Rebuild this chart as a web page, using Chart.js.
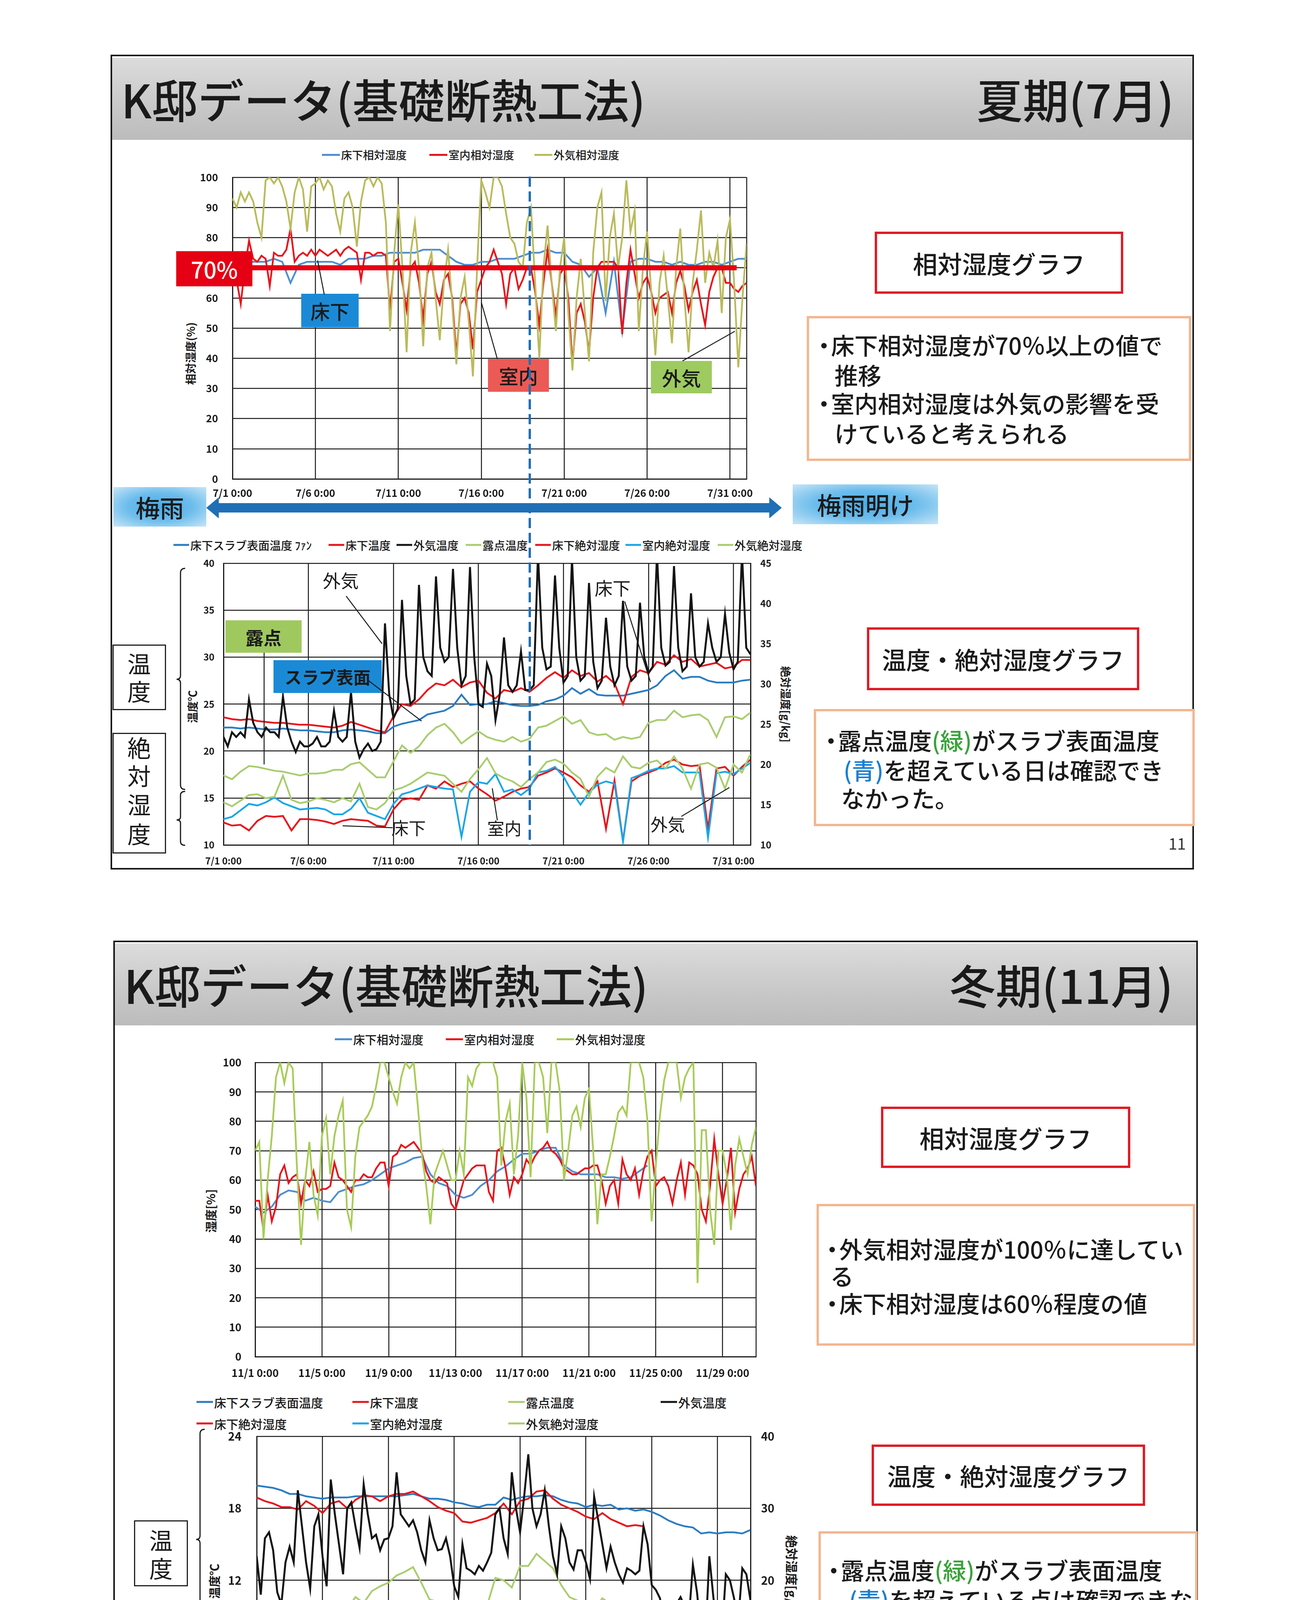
<!DOCTYPE html>
<html lang="ja">
<head>
<meta charset="utf-8">
<title>K邸データ(基礎断熱工法)</title>
<script src="https://cdn.jsdelivr.net/npm/chart.js@4.4.1/dist/chart.umd.min.js"></script>
<style>
html, body { margin: 0; padding: 0; background: #fff; }
body { width: 3307px; height: 4680px; position: relative; overflow: hidden;
       font-family: 'Noto Sans CJK JP', 'Noto Sans', sans-serif; color: #1a1a1a; }
.frame { position: absolute; border: 4px solid #161616; box-sizing: border-box; background: #fff; }
.band { position: absolute; background: linear-gradient(#dcdcdc, #c6c6c6 65%, #bcbcbc); }
.title { position: absolute; font-size: 118px; font-weight: 500; line-height: 1; white-space: nowrap; transform: translateY(-50%); }
.t { position: absolute; line-height: 1; white-space: nowrap; transform: translateY(-50%); font-weight: 500; }
.c { position: absolute; line-height: 1; white-space: nowrap; transform: translate(-50%, -50%); }
.chartbox { position: absolute; z-index: 1; }
.box { position: absolute; box-sizing: border-box; display: flex; align-items: center; justify-content: center; z-index: 3; line-height: 1; white-space: nowrap; }
.redbox { border: 6px solid #e01b24; background: #fff; font-size: 63px; font-weight: 500; }
.notebox { position: absolute; box-sizing: border-box; border: 6px solid #f3b690; background: #fff; }
.sidebox { position: absolute; box-sizing: border-box; border: 3px solid #222; background: #fff; }
.rain { background: radial-gradient(ellipse at center, #46ace6 0%, #6dbdec 50%, #c7e5f7 100%); font-size: 62px; font-weight: 500; }
.legend-item { position: absolute; display: flex; align-items: center; white-space: nowrap; transform: translateY(-50%); line-height: 1; font-weight: 500; }
.legend-item i { display: inline-block; height: 5px; margin-right: 3px; }
.axt { position: absolute; line-height: 1; white-space: nowrap; font-weight: 700; }
.z { z-index: 4; }
svg.overlay { position: absolute; left: 0; top: 0; z-index: 6; pointer-events: none; }
</style>
</head>
<body>

<!-- slide frames -->
<div class="frame" style="left:283px; top:140px; width:2773px; height:2086px;"></div>
<div class="band" style="left:287px; top:148px; width:2765px; height:210px;"></div>
<div class="frame" style="left:290px; top:2408px; width:2776px; height:2084px;"></div>
<div class="band" style="left:294px; top:2415px; width:2768px; height:210px;"></div>

<div class="title" style="left:310px; top:252px;">K邸データ(基礎断熱工法)</div>
<div class="title" style="right:302px; top:252px;">夏期(7月)</div>
<div class="title" style="left:317px; top:2519px;">K邸データ(基礎断熱工法)</div>
<div class="title" style="right:304px; top:2519px;">冬期(11月)</div>

<!-- chart containers -->
<div class="chartbox" id="chartJulyRH"></div>
<div class="chartbox" id="chartJulyTemp"></div>
<div class="chartbox" id="chartNovRH"></div>
<div class="chartbox" id="chartNovTemp"></div>

<!-- axis titles -->
<div class="axt" style="left:487px; top:905px; font-size:28px; transform:translate(-50%,-50%) rotate(-90deg);">相対湿度(%)</div>
<div class="axt" style="left:492px; top:1809px; font-size:28px; transform:translate(-50%,-50%) rotate(-90deg);">温度℃</div>
<div class="axt" style="left:2012px; top:1803px; font-size:28px; transform:translate(-50%,-50%) rotate(90deg);">絶対湿度[g/kg]</div>
<div class="axt" style="left:538px; top:3100px; font-size:30px; transform:translate(-50%,-50%) rotate(-90deg);">湿度[%]</div>
<div class="axt" style="left:547px; top:4048px; font-size:30px; transform:translate(-50%,-50%) rotate(-90deg);">温度℃</div>
<div class="axt" style="left:2028px; top:4042px; font-size:32px; transform:translate(-50%,-50%) rotate(90deg);">絶対湿度[g/kg]</div>

<!-- slide 1 : relative humidity annotations -->
<div class="box" style="left:451px; top:643px; width:195px; height:90px; background:#e60013; color:#fff; font-size:58px; font-weight:500;">70%</div>
<div class="box" style="left:771px; top:752px; width:147px; height:86px; background:#1b8ad6; font-size:50px; font-weight:500;">床下</div>
<div class="box" style="left:1249px; top:919px; width:156px; height:84px; background:#ec5a55; font-size:50px; font-weight:500;">室内</div>
<div class="box" style="left:1666px; top:924px; width:156px; height:83px; background:#9dcb5f; font-size:50px; font-weight:500;">外気</div>

<div class="box redbox" style="left:2239px; top:593px; width:636px; height:159px;">相対湿度グラフ</div>
<div class="notebox" style="left:2065px; top:809px; width:984px; height:371px;"></div>
<div class="t z" style="left:2079px; top:882px; font-size:60px;">・</div>
<div class="t z" style="left:2127px; top:882px; font-size:60px;">床下相対湿度が70％以上の値で</div>
<div class="t z" style="left:2136px; top:959px; font-size:60px;">推移</div>
<div class="t z" style="left:2079px; top:1031px; font-size:60px;">・</div>
<div class="t z" style="left:2127px; top:1031px; font-size:60px;">室内相対湿度は外気の影響を受</div>
<div class="t z" style="left:2136px; top:1108px; font-size:60px;">けていると考えられる</div>

<!-- rainy season band -->
<div class="box rain" style="left:290px; top:1247px; width:238px; height:101px;">梅雨</div>
<div class="box rain" style="left:2029px; top:1240px; width:372px; height:102px;">梅雨明け</div>

<!-- slide 1 : temperature / absolute humidity annotations -->
<div class="c z" style="left:872px; top:1484px; font-size:46px;">外気</div>
<div class="c z" style="left:1568px; top:1503px; font-size:46px;">床下</div>
<div class="box" style="left:577px; top:1588px; width:195px; height:83px; background:#9fc95e; font-size:46px; font-weight:700;">露点</div>
<div class="box" style="left:700px; top:1690px; width:277px; height:84px; background:#1b8ad6; font-size:44px; font-weight:700;">スラブ表面</div>
<div class="c z" style="left:1046px; top:2118px; font-size:44px;">床下</div>
<div class="c z" style="left:1291px; top:2119px; font-size:44px;">室内</div>
<div class="c z" style="left:1709px; top:2109px; font-size:44px;">外気</div>

<div class="sidebox" style="left:288px; top:1650px; width:137px; height:168px;"></div>
<div class="c z" style="left:356px; top:1697px; font-size:60px;">温</div>
<div class="c z" style="left:356px; top:1768px; font-size:60px;">度</div>
<div class="sidebox" style="left:288px; top:1876px; width:137px; height:309px;"></div>
<div class="c z" style="left:356px; top:1912px; font-size:60px;">絶</div>
<div class="c z" style="left:356px; top:1984px; font-size:60px;">対</div>
<div class="c z" style="left:356px; top:2058px; font-size:60px;">湿</div>
<div class="c z" style="left:356px; top:2133px; font-size:60px;">度</div>

<div class="box redbox" style="left:2219px; top:1606px; width:697px; height:161px; font-size:62px;">温度・絶対湿度グラフ</div>
<div class="notebox" style="left:2083px; top:1815px; width:975px; height:300px;"></div>
<div class="t z" style="left:2097px; top:1894px; font-size:60px;">・</div>
<div class="t z" style="left:2145px; top:1894px; font-size:60px;">露点温度<span style="color:#3aa23a">(緑)</span>がスラブ表面温度</div>
<div class="t z" style="left:2159px; top:1970px; font-size:60px;"><span style="color:#1b7fd0">(青)</span>を超えている日は確認でき</div>
<div class="t z" style="left:2153px; top:2042px; font-size:60px;">なかった。</div>
<div class="c z" style="left:3013px; top:2158px; font-size:40px; color:#333;">11</div>

<!-- slide 2 annotations -->
<div class="box redbox" style="left:2255px; top:2833px; width:638px; height:157px;">相対湿度グラフ</div>
<div class="notebox" style="left:2090px; top:3082px; width:969px; height:363px;"></div>
<div class="t z" style="left:2100px; top:3196px; font-size:60px;">・</div>
<div class="t z" style="left:2148px; top:3196px; font-size:60px;">外気相対湿度が100％に達してい</div>
<div class="t z" style="left:2125px; top:3265px; font-size:60px;">る</div>
<div class="t z" style="left:2100px; top:3335px; font-size:60px;">・</div>
<div class="t z" style="left:2148px; top:3335px; font-size:60px;">床下相対湿度は60％程度の値</div>

<div class="sidebox" style="left:343px; top:3892px; width:138px; height:169px;"></div>
<div class="c z" style="left:412px; top:3941px; font-size:60px;">温</div>
<div class="c z" style="left:412px; top:4013px; font-size:60px;">度</div>
<div class="sidebox" style="left:343px; top:4160px; width:138px; height:308px;"></div>
<div class="c z" style="left:412px; top:4204px; font-size:60px;">絶</div>
<div class="c z" style="left:412px; top:4276px; font-size:60px;">対</div>
<div class="c z" style="left:412px; top:4350px; font-size:60px;">湿</div>
<div class="c z" style="left:412px; top:4420px; font-size:60px;">度</div>

<div class="box redbox" style="left:2231px; top:3698px; width:700px; height:157px; font-size:62px;">温度・絶対湿度グラフ</div>
<div class="notebox" style="left:2095px; top:3920px; width:970px; height:343px;"></div>
<div class="t z" style="left:2104px; top:4018px; font-size:60px;">・</div>
<div class="t z" style="left:2152px; top:4018px; font-size:60px;">露点温度<span style="color:#3aa23a">(緑)</span>がスラブ表面温度</div>
<div class="t z" style="left:2173px; top:4094px; font-size:60px;"><span style="color:#1b7fd0">(青)</span>を超えている点は確認できな</div>
<div class="t z" style="left:2125px; top:4171px; font-size:60px;">い。</div>
<div class="c z" style="left:3029px; top:4425px; font-size:40px; color:#333;">12</div>

<!-- leader lines, braces, arrow, dashed divider -->
<svg class="overlay" width="3307" height="4680" viewBox="0 0 3307 4680">
  <g stroke="#1a1a1a" stroke-width="2.5" fill="none">
    <line x1="830" y1="754" x2="813" y2="667"/>
    <line x1="1273" y1="919" x2="1232" y2="774"/>
    <line x1="1747" y1="924" x2="1881" y2="848"/>
    <line x1="886" y1="1526" x2="978" y2="1648"/>
    <line x1="1599" y1="1540" x2="1665" y2="1746"/>
    <line x1="676" y1="1671" x2="676" y2="1957"/>
    <line x1="940" y1="1740" x2="1079" y2="1846"/>
    <line x1="1005" y1="2119" x2="877" y2="2114"/>
    <line x1="1273" y1="2100" x2="1260" y2="2018"/>
    <line x1="1744" y1="2090" x2="1867" y2="2016"/>
  </g>
  <g stroke="#1a1a1a" stroke-width="3" fill="none">
    <path d="M474 1455 Q462 1455 462 1467 L462 1729 Q462 1739 452 1739 Q462 1739 462 1749 L462 2009 Q462 2021 474 2021"/>
    <path d="M474 2026 Q462 2026 462 2036 L462 2091 Q462 2099 452 2099 Q462 2099 462 2107 L462 2154 Q462 2164 474 2164"/>
    <path d="M524 3659 Q512 3659 512 3671 L512 3931 Q512 3941 502 3941 Q512 3941 512 3951 L512 4208 Q512 4220 524 4220"/>
    <path d="M524 4226 Q512 4226 512 4236 L512 4314 Q512 4324 502 4324 Q512 4324 512 4334 L512 4412 Q512 4422 524 4422"/>
  </g>
  <g fill="#1f6fb6">
    <rect x="556" y="1288" width="1417" height="24"/>
    <polygon points="528,1300 560,1273 560,1327"/>
    <polygon points="2001,1300 1969,1273 1969,1327"/>
  </g>
  <line x1="1356" y1="452" x2="1356" y2="2166" stroke="#1f6fb6" stroke-width="6" stroke-dasharray="26 12"/>
</svg>

<script>
// ---------- July (summer) ----------
const julyTickDays = [0, 5, 10, 15, 20, 25, 30];
const julyTickLabels = ['7/1 0:00', '7/6 0:00', '7/11 0:00', '7/16 0:00', '7/21 0:00', '7/26 0:00', '7/31 0:00'];

// relative humidity [%], 4 readings per day (outdoor, room), 2 per day (underfloor)
const julyOutRH = [93, 90, 95, 92, 95, 92, 85, 80, 99, 100, 98, 100, 97, 92, 83, 95, 100, 96, 82, 97,
  98, 100, 96, 99, 97, 88, 82, 93, 95, 90, 77, 92, 99, 100, 97, 100, 98, 85, 49, 75,
  91, 70, 42, 75, 85, 70, 44, 70, 75, 60, 46, 65, 76, 58, 38, 60, 67, 52, 34, 70,
  99, 95, 90, 100, 100, 97, 88, 80, 78, 72, 70, 85, 90, 65, 40, 70, 84, 65, 49, 70,
  80, 55, 36, 60, 73, 55, 39, 75, 90, 95, 59, 80, 88, 70, 80, 99, 82, 89, 49, 70,
  82, 62, 41, 65, 74, 60, 45, 70, 83, 60, 42, 65, 76, 89, 65, 75, 70, 79, 55, 80,
  86, 65, 37, 60, 78];
const julyRoomRH = [69, 66, 58, 70, 79, 73, 72, 74, 73, 64, 75, 74, 74, 76, 83, 72, 74, 75, 74, 76,
  74, 76, 75, 74, 75, 76, 74, 76, 77, 76, 75, 66, 75, 75, 74, 75, 75, 74, 56, 72,
  73, 65, 56, 70, 72, 65, 53, 68, 72, 62, 58, 66, 68, 60, 41, 58, 60, 55, 43, 62,
  66, 70, 72, 76, 72, 68, 58, 68, 70, 63, 66, 70, 70, 62, 51, 65, 76, 65, 54, 68,
  70, 60, 38, 55, 58, 52, 42, 60, 70, 72, 72, 72, 72, 70, 48, 65, 76, 68, 60, 65,
  67, 62, 55, 60, 61, 62, 55, 65, 69, 64, 56, 62, 66, 58, 51, 62, 67, 70, 70, 65,
  65, 63, 62, 64, 65];
const julyFloorRH = [71, 72, 72, 72, 72, 73, 72, 65, 71, 72, 72, 72, 72, 71, 73, 73, 73, 74, 74, 75,
  75, 75, 75, 76, 76, 76, 74, 72, 71, 71, 72, 72, 73, 73, 73, 74, 75, 75, 76, 75,
  75, 72, 71, 67, 70, 55, 72, 49, 72, 73, 73, 72, 72, 71, 72, 71, 71, 72, 72, 71,
  72, 73, 73];
const julyGuideDays = [1.2, 30.4];
const julyGuide70 = [70, 70];

// temperature [°C]: outdoor 4/day, others 2/day
const julyOutTemp = [21.5, 20.5, 22, 21.5, 22, 21.5, 25.5, 23, 22, 21.5, 22.5, 22, 22, 21.5, 25.8, 22.5,
  21, 19.9, 21, 20.5, 20.5, 20.8, 21.5, 20.5, 20.5, 21, 24.3, 21.5, 21, 21.5, 26.3, 21,
  19.3, 20.2, 20.8, 20, 20.2, 21, 33.6, 26, 23.5, 24.5, 36.1, 28, 25, 25.5, 37.7, 30,
  28.5, 28, 38.6, 31, 29.5, 30, 39.4, 31, 27, 28, 39.6, 30, 25, 24.7, 29.3, 28,
  23.3, 26, 32.1, 27, 26.3, 27, 30.6, 26.5, 26.5, 27, 41, 31, 28.7, 29, 38.7, 31,
  27.3, 28, 40.5, 30, 27.5, 28, 37.9, 29.5, 26.7, 27.5, 34.2, 29, 27, 28, 36, 29,
  27.5, 28, 35.8, 30, 28.3, 29, 41, 31, 29.1, 29.5, 39.7, 31, 28.5, 29, 36.8, 30,
  29, 29.5, 33.6, 31, 29.5, 30, 34.6, 30.5, 28.7, 29.5, 41, 31, 30.3];
const julySlabTemp = [22.5, 22.5, 22.4, 22.5, 22.4, 22.3, 22.3, 22.4, 22.3, 22.2, 22.2, 22.1, 22.0, 22.0,
  22.2, 22.3, 22.2, 22.1, 21.9, 21.9, 22.6, 22.9, 23.1, 23.3, 23.9, 24.1, 24.3, 24.8, 26.0, 24.9,
  25.0, 25.0, 25.3, 25.1, 24.9, 24.8, 24.8, 24.9, 25.3, 25.5, 25.9, 26.7, 26.1, 26.6, 26.0, 25.9,
  25.9, 25.9, 26.1, 26.3, 26.5, 27.0, 28.0, 28.6, 27.7, 27.9, 27.9, 27.5, 27.3, 27.3, 27.3, 27.5, 27.6];
const julyFloorTemp = [23.6, 23.4, 23.3, 23.4, 23.2, 23.1, 23.0, 23.0, 22.9, 22.8, 22.8, 22.7, 22.6, 22.5,
  22.7, 23.1, 22.8, 22.5, 22.2, 22.0, 23.7, 25.0, 24.8, 25.5, 26.5, 27.2, 27.0, 27.6, 26.8, 27.3,
  27.5, 26.2, 25.6, 26.5, 26.3, 26.7, 26.3, 27.0, 27.8, 28.4, 27.8, 28.6, 28.0, 28.3, 27.4, 28.0,
  27.2, 25.0, 27.9, 28.6, 28.3, 29.5, 29.2, 30.2, 29.5, 29.8, 29.0, 29.2, 29.4, 28.8, 29.0, 29.7, 29.7];
const julyDewPoint = [17.4, 17.0, 17.8, 18.4, 18.3, 18.1, 17.9, 17.8, 17.6, 17.4, 17.6, 17.6, 17.7, 18.0,
  18.0, 18.6, 18.8, 18.0, 17.2, 17.2, 18.9, 20.6, 19.8, 20.5, 21.7, 22.5, 22.9, 22.0, 20.8, 21.5,
  22.1, 21.5, 21.2, 21.0, 21.5, 21.0, 21.3, 22.5, 22.7, 23.2, 23.7, 22.9, 23.3, 22.0, 21.7, 21.8,
  21.2, 21.5, 21.3, 21.5, 23.0, 23.3, 23.3, 24.3, 23.6, 23.8, 23.9, 23.3, 21.5, 23.6, 23.7, 23.4, 24.1];
// absolute humidity [g/kg], 2/day
const julyFloorAbs = [12.8, 12.4, 12.5, 11.8, 13.0, 13.6, 13.5, 13.6, 11.8, 13.2, 13.2, 13.1, 12.9, 12.6,
  13.0, 13.2, 13.1, 13.0, 12.4, 12.3, 14.4, 15.6, 15.8, 15.6, 17.4, 17.0, 17.9, 17.2, 17.6, 17.9,
  17.0, 16.3, 15.5, 16.0, 16.6, 17.0, 17.2, 18.6, 19.0, 19.5, 19.0, 18.4, 17.4, 16.6, 17.9, 12.0,
  18.0, 10.5, 17.9, 18.6, 19.0, 19.4, 20.2, 20.6, 20.0, 19.8, 19.9, 12.0, 19.5, 19.7, 18.6, 19.7, 20.6];
const julyRoomAbs = [13.2, 13.5, 14.3, 15.1, 14.9, 15.3, 15.9, 15.2, 14.8, 14.4, 14.5, 14.6, 14.4, 13.8,
  13.8, 14.5, 15.8, 14.0, 13.6, 13.2, 15.1, 16.3, 16.6, 17.0, 17.4, 17.2, 17.0, 16.9, 11.0, 16.6,
  17.8, 17.6, 18.8, 16.6, 16.9, 16.2, 17.0, 19.0, 19.2, 19.7, 18.5, 16.6, 15.0, 16.5, 17.5, 17.9,
  17.6, 10.4, 18.3, 18.7, 19.2, 19.5, 19.5, 19.8, 19.0, 19.0, 19.0, 10.9, 18.9, 19.1, 18.8, 19.5, 20.2];
const julyOutAbs = [15.3, 14.8, 15.5, 16.2, 16.3, 15.8, 16.0, 18.6, 15.6, 15.2, 15.4, 15.8, 15.6, 15.3,
  15.8, 15.4, 17.6, 14.7, 14.4, 15.2, 16.8, 17.1, 17.6, 18.3, 19.0, 18.8, 18.6, 17.6, 16.6, 18.2,
  19.4, 20.8, 18.9, 18.3, 17.9, 17.2, 18.2, 19.0, 20.3, 20.6, 20.1, 19.0, 18.2, 16.0, 18.5, 19.6,
  19.0, 21.0, 19.7, 19.5, 20.2, 20.5, 19.5, 21.0, 19.5, 17.0, 20.0, 20.2, 19.6, 17.0, 20.0, 19.0, 21.3];

// ---------- November (winter) ----------
const novTickDays = [0, 4, 8, 12, 16, 20, 24, 28];
const novTickLabels = ['11/1 0:00', '11/5 0:00', '11/9 0:00', '11/13 0:00', '11/17 0:00', '11/21 0:00', '11/25 0:00', '11/29 0:00'];

const novOutRH = [70, 73, 40, 60, 75, 95, 100, 93, 100, 98, 65, 38, 60, 73, 55, 48, 75, 81, 62, 75,
  82, 87, 50, 44, 68, 78, 80, 82, 85, 92, 100, 100, 95, 90, 86, 95, 100, 98, 100, 85,
  68, 58, 45, 62, 66, 70, 65, 60, 60, 70, 62, 95, 92, 98, 100, 100, 100, 100, 95, 65,
  80, 86, 62, 75, 100, 88, 61, 100, 100, 95, 76, 100, 100, 90, 60, 70, 82, 85, 78, 88,
  91, 70, 45, 62, 62, 68, 75, 83, 85, 82, 100, 100, 100, 95, 80, 46, 65, 82, 94, 100,
  100, 100, 88, 95, 98, 100, 25, 77, 77, 50, 38, 70, 70, 62, 43, 65, 74, 68, 62, 72, 78];
const novRoomRH = [53, 53, 43, 55, 46, 51, 62, 65, 59, 61, 62, 52, 60, 58, 63, 56, 57, 57, 58, 66,
  61, 60, 58, 56, 60, 60, 62, 61, 61, 64, 66, 66, 58, 68, 69, 72, 71, 72, 73, 71,
  69, 63, 60, 59, 61, 60, 59, 52, 50, 55, 60, 62, 64, 65, 65, 65, 56, 53, 70, 71,
  64, 55, 61, 59, 62, 67, 65, 68, 70, 71, 73, 70, 69, 67, 64, 63, 62, 62, 63, 64,
  64, 65, 65, 60, 52, 58, 60, 52, 67, 62, 60, 64, 55, 63, 68, 70, 58, 60, 61, 58,
  52, 60, 66, 55, 66, 65, 62, 50, 46, 58, 74, 62, 52, 60, 71, 49, 57, 62, 64, 68, 58];
const novFloorRH = [51, 49, 51, 55, 56.5, 56, 53, 54, 53, 52.5, 56, 57, 58, 58.6, 60, 62, 64, 65, 66, 67.5,
  68, 62, 59, 58, 55, 54, 55, 58, 60, 63, 64.7, 67, 69, 69, 70, 71, 71, 65, 63, 62,
  62, 62, 61, 61, 60.5, 61, 63, 65];

const novOutTemp = [14.0, 10.8, 15.5, 16.0, 14.5, 11.0, 10.0, 13.5, 14.8, 13.5, 19.5, 16.5, 13.5, 11.3, 16.5, 17.5,
  14.0, 11.5, 20.4, 17.5, 15.0, 12.5, 18.0, 18.5, 16.5, 14.7, 20.0, 17.5, 15.5, 15.8, 14.5, 15.4,
  15.5, 16.5, 21.0, 17.5, 17.0, 16.5, 17.0, 16.0, 14.5, 13.5, 17.0, 15.5, 14.5, 14.6, 15.5, 14.0,
  11.5, 10.6, 15.0, 13.0, 12.8, 12.5, 13.2, 12.8, 13.5, 14.3, 17.5, 18.0, 15.5, 14.2, 21.0, 18.0,
  16.0, 19.0, 22.5, 18.0, 16.5, 17.5, 19.5, 16.5, 14.0, 12.5, 16.5, 15.5, 13.5, 12.9, 14.5, 14.5,
  13.5, 12.1, 19.0, 17.0, 15.0, 13.0, 14.8, 13.5, 12.5, 11.8, 13.0, 12.8, 12.5, 12.8, 16.5, 15.0,
  11.6, 11.2, 10.5, 8.4, 6.3, 7.5, 10.0, 10.6, 9.8, 8.7, 13.3, 11.0, 7.5, 6.8, 14.0, 10.5,
  8.0, 7.2, 12.5, 12.0, 10.5, 8.5, 13.0, 12.5, 10.3];
const novSlabTemp = [19.9, 19.8, 19.7, 19.5, 19.2, 19.2, 19.0, 18.9, 18.8, 18.9, 18.9, 18.9, 19.0, 19.0, 19.0,
  19.0, 19.0, 19.0, 19.1, 19.2, 19.0, 18.8, 18.8, 18.7, 18.5, 18.4, 18.2, 18.1, 18.3, 18.3,
  18.9, 18.7, 18.9, 19.0, 19.0, 19.1, 19.0, 18.7, 18.5, 18.4, 18.1, 18.3, 18.2, 18.3, 17.9,
  18.0, 17.8, 17.9, 17.7, 17.4, 17.0, 16.7, 16.5, 16.4, 15.9, 16.0, 15.9, 16.0, 16.0, 15.9, 16.2];
const novFloorTemp = [18.9, 18.6, 18.4, 18.1, 18.1, 17.9, 18.6, 18.2, 17.6, 18.4, 18.6, 18.0, 18.7, 19.1, 19.0,
  18.6, 19.0, 19.2, 19.2, 19.4, 19.0, 18.6, 18.1, 17.8, 17.6, 16.9, 16.8, 17.0, 17.2, 17.6,
  18.4, 17.5, 18.6, 18.8, 19.4, 19.5, 18.8, 18.3, 18.0, 17.7, 17.3, 17.1, 17.6, 17.1, 16.8, 16.5, 16.6, 16.5];
const novDewPoint = [8.4, 7.3, 7.8, 8.3, 8.8, 9.5, 9.0, 7.4, 8.9, 7.7, 10.0, 9.6, 10.6, 10.1, 11.1, 11.5,
  11.8, 12.4, 12.7, 13.1, 11.8, 10.4, 10.2, 9.7, 7.6, 8.4, 8.9, 9.2, 9.9, 12.2, 12.0, 11.4,
  13.2, 13.2, 14.2, 13.6, 13.0, 11.6, 10.6, 10.3, 10.2, 9.6, 10.5, 10.0, 9.2, 9.0, 10.0, 9.8];
const novFloorAbs = [6.6, 6.1, 6.5, 6.8, 7.2, 7.0, 6.8, 6.8, 6.8, 6.5, 7.3, 7.2, 7.6, 7.8, 8.0, 8.5,
  8.6, 8.7, 9.0, 9.3, 8.2, 7.6, 7.2, 6.7, 6.4, 6.1, 6.7, 7.0, 7.3, 7.6, 8.3, 8.5,
  8.9, 9.3, 10.1, 9.9, 9.0, 8.2, 7.9, 7.7, 7.5, 7.4, 7.4, 7.3, 7.2, 7.3, 7.5, 7.6];
const novFloorAbsTailDays = [23.5, 30];   // sensor reads 0 from 11/24 12:00
const novFloorAbsTail = [0, 0];
const novRoomAbs = [6.6, 6.9, 7.9, 8.1, 8.0, 7.8, 8.0, 8.5, 7.1, 7.7, 8.2, 7.3, 8.9, 8.4, 9.2, 8.6,
  8.4, 9.8, 10.0, 10.5, 8.5, 8.0, 7.4, 7.4, 6.6, 6.3, 7.1, 7.4, 7.9, 9.0, 8.5, 9.6,
  10.0, 10.3, 10.9, 10.3, 9.5, 8.6, 8.2, 7.9, 7.6, 7.4, 8.4, 7.7, 9.2, 8.1, 8.4, 8.1,
  7.2, 6.7, 6.9, 7.2, 6.2, 5.5, 6.5, 5.7, 6.2, 7.2, 6.4, 7.2, 6.9];
const novOutAbs = [5.8, 4.8, 7.5, 9.0, 10.4, 8.8, 6.5, 6.4, 7.3, 7.5, 6.9, 6.2, 7.8, 9.1, 8.8, 11.0,
  11.0, 14.5, 12.6, 12.4, 9.0, 6.9, 6.4, 6.2, 5.9, 6.8, 7.3, 8.2, 9.2, 12.6, 9.5, 9.3,
  11.0, 11.7, 12.3, 12.3, 10.8, 8.0, 7.5, 7.6, 7.2, 6.5, 5.9, 6.6, 7.0, 8.5, 9.0, 9.9,
  4.2, 5.8, 6.0, 7.1, 6.7, 2.6, 5.0, 5.2, 5.6, 4.2, 5.3, 5.6, 6.1];

// ---------- styling ----------
const GRID = '#1c1c1c';
const RED = '#e8141c';
const BLUE_RH = '#4d8fd0';
const OLIVE = '#b9bb5c';
const GREEN = '#a8cc58';
const SLAB_BLUE = '#2a7cc2';
const ROOM_BLUE = '#1aa6e8';
const DEW_GREEN = '#a9cd6e';
const BLACK = '#141414';

Chart.defaults.font.family = "'Noto Sans CJK JP', 'Noto Sans', sans-serif";
Chart.defaults.color = '#1a1a1a';

function perDay(values, n) {
  return values.map((v, i) => ({ x: i / n, y: v }));
}

function line(label, data, color, order, axis, width) {
  return { label, data, borderColor: color, backgroundColor: color, borderWidth: width || 4.5,
           pointRadius: 0, tension: 0, fill: false, order, yAxisID: axis || 'y' };
}

function timeAxis(maxDay, days, labels, size, pad, height) {
  return {
    type: 'linear', min: 0, max: maxDay,
    afterBuildTicks: s => { s.ticks = days.concat([maxDay]).map(v => ({ value: v })); },
    afterFit: s => { s.height = height; s.paddingLeft = 0; s.paddingRight = 0; },
    grid: { color: GRID, lineWidth: 2.5, drawTicks: false },
    border: { color: GRID, width: 3 },
    ticks: {
      autoSkip: false, maxRotation: 0, minRotation: 0, padding: pad, color: '#1a1a1a',
      font: { size: size, weight: 'bold' },
      callback: v => { const i = days.indexOf(v); return i < 0 ? '' : labels[i]; }
    }
  };
}

function valueAxis(pos, min, max, step, size, pad, width, withGrid) {
  return {
    type: 'linear', position: pos, min, max,
    afterFit: s => { s.width = width; s.paddingTop = 0; s.paddingBottom = 0; },
    grid: withGrid ? { color: GRID, lineWidth: 2.5, drawTicks: false } : { display: false, drawTicks: false },
    border: { color: GRID, width: 3 },
    ticks: { stepSize: step, padding: pad, color: '#1a1a1a', font: { size: size, weight: 'bold' } }
  };
}

function makeChart(id, geo, datasets, scales) {
  const box = document.getElementById(id);
  const left = geo.x0 - geo.L;
  const top = geo.y0 - geo.T;
  box.style.left = left + 'px';
  box.style.top = top + 'px';
  box.style.width = (geo.x1 + geo.R - left) + 'px';
  box.style.height = (geo.y1 + geo.B - top) + 'px';
  const canvas = document.createElement('canvas');
  box.appendChild(canvas);
  return new Chart(canvas, {
    type: 'line',
    data: { datasets },
    options: {
      animation: false, responsive: true, maintainAspectRatio: false,
      layout: { padding: { top: geo.T, left: 0, bottom: 0, right: scales.y2 ? 0 : geo.R } },
      plugins: { legend: { display: false }, tooltip: { enabled: false } },
      scales
    }
  });
}

function legend(datasets, xs, y, size, sample) {
  datasets.forEach((ds, i) => {
    const d = document.createElement('div');
    d.className = 'legend-item';
    d.style.left = xs[i] + 'px';
    d.style.top = (Array.isArray(y) ? y[i] : y) + 'px';
    d.style.fontSize = size + 'px';
    d.innerHTML = '<i style="width:' + sample + 'px;background:' + ds.borderColor + '"></i>' + ds.label;
    document.body.appendChild(d);
  });
}

// ---------- July relative humidity ----------
const julyRHSets = [
  line('床下相対湿度', perDay(julyFloorRH, 2), BLUE_RH, 3),
  line('室内相対湿度', perDay(julyRoomRH, 4), RED, 2),
  line('外気相対湿度', perDay(julyOutRH, 4), OLIVE, 1)
];
makeChart('chartJulyRH', { x0: 595, x1: 1911, y0: 454, y1: 1226, L: 100, R: 40, T: 20, B: 60 },
  julyRHSets.concat([{
    label: '70%', data: julyGuideDays.map((d, i) => ({ x: d, y: julyGuide70[i] })),
    borderColor: '#e60013', borderWidth: 13, pointRadius: 0, order: 0, yAxisID: 'y'
  }]), {
    x: timeAxis(31, julyTickDays, julyTickLabels, 26, 21, 60),
    y: valueAxis('left', 0, 100, 10, 26, 37, 100, true)
  });
legend(julyRHSets, [824, 1099, 1368], 396, 28, 46);

// ---------- July temperature / absolute humidity ----------
const julyTempSets = [
  line('床下スラブ表面温度 ﾌｧﾝ', perDay(julySlabTemp, 2), SLAB_BLUE, 7),
  line('床下温度', perDay(julyFloorTemp, 2), RED, 6),
  line('外気温度', perDay(julyOutTemp, 4), BLACK, 5, 'y', 5),
  line('露点温度', perDay(julyDewPoint, 2), DEW_GREEN, 4),
  line('床下絶対湿度', perDay(julyFloorAbs, 2), RED, 3, 'y2'),
  line('室内絶対湿度', perDay(julyRoomAbs, 2), ROOM_BLUE, 2, 'y2'),
  line('外気絶対湿度', perDay(julyOutAbs, 2), DEW_GREEN, 1, 'y2')
];
makeChart('chartJulyTemp', { x0: 572, x1: 1921, y0: 1442, y1: 2163, L: 90, R: 90, T: 20, B: 60 },
  julyTempSets, {
    x: timeAxis(31, julyTickDays, julyTickLabels, 24, 26, 60),
    y: valueAxis('left', 10, 40, 5, 24, 23, 90, true),
    y2: valueAxis('right', 10, 45, 5, 24, 25, 90, false)
  });
legend(julyTempSets, [444, 841, 1015, 1192, 1370, 1601, 1837], 1395, 29, 40);

// ---------- November relative humidity ----------
const novRHSets = [
  line('床下相対湿度', perDay(novFloorRH, 2), BLUE_RH, 3),
  line('室内相対湿度', perDay(novRoomRH, 4), RED, 2),
  line('外気相対湿度', perDay(novOutRH, 4), GREEN, 1)
];
makeChart('chartNovRH', { x0: 653, x1: 1935, y0: 2720, y1: 3473, L: 110, R: 40, T: 20, B: 60 },
  novRHSets, {
    x: timeAxis(30, novTickDays, novTickLabels, 27, 26, 60),
    y: valueAxis('left', 0, 100, 10, 27, 35, 110, true)
  });
legend(novRHSets, [857, 1141, 1425], 2660, 30, 44);

// ---------- November temperature / absolute humidity ----------
const novFloorAbsData = perDay(novFloorAbs, 2).concat(
  novFloorAbsTailDays.map((d, i) => ({ x: d, y: novFloorAbsTail[i] })));
const novTempSets = [
  line('床下スラブ表面温度', perDay(novSlabTemp, 2), SLAB_BLUE, 7),
  line('床下温度', perDay(novFloorTemp, 2), RED, 6),
  line('露点温度', perDay(novDewPoint, 2), DEW_GREEN, 5),
  line('外気温度', perDay(novOutTemp, 4), BLACK, 4, 'y', 5),
  line('床下絶対湿度', novFloorAbsData, RED, 3, 'y2'),
  line('室内絶対湿度', perDay(novRoomAbs, 2), ROOM_BLUE, 2, 'y2'),
  line('外気絶対湿度', perDay(novOutAbs, 2), DEW_GREEN, 1, 'y2')
];
makeChart('chartNovTemp', { x0: 657, x1: 1921, y0: 3677, y1: 4414, L: 110, R: 90, T: 20, B: 60 },
  novTempSets, {
    x: timeAxis(30, novTickDays, novTickLabels, 29, 27, 60),
    y: valueAxis('left', 0, 24, 6, 29, 39, 110, true),
    y2: valueAxis('right', 0, 40, 10, 29, 27, 90, false)
  });
legend(novTempSets, [503, 902, 1301, 1691, 503, 902, 1301],
  [3589, 3589, 3589, 3589, 3644, 3644, 3644], 31, 42);
</script>
</body>
</html>
